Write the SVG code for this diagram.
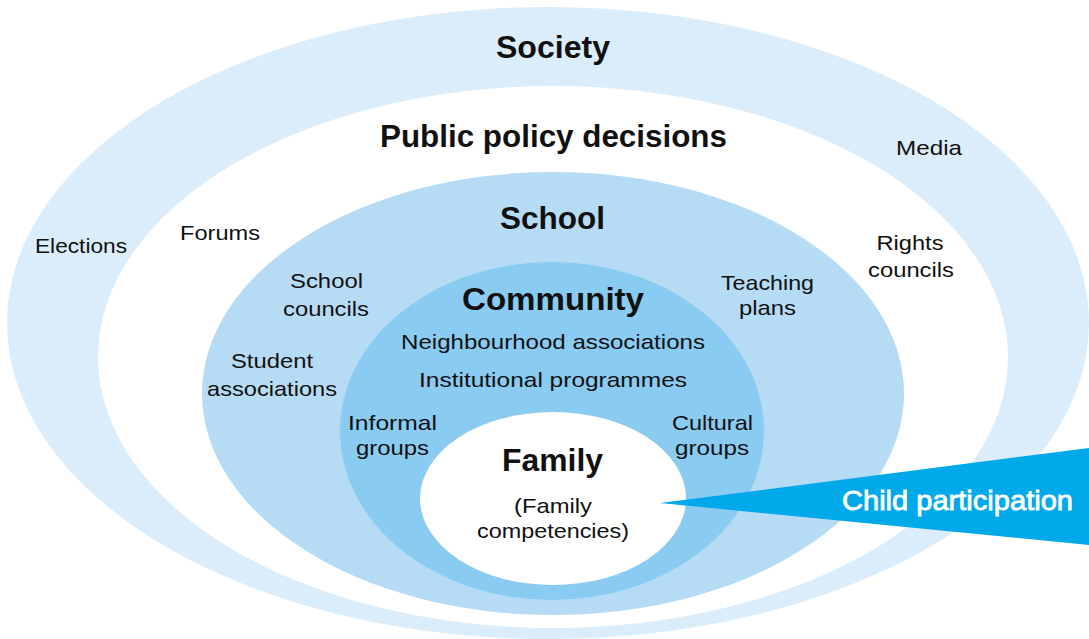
<svg xmlns="http://www.w3.org/2000/svg" width="1089" height="639" viewBox="0 0 1089 639">
<style>
text{font-family:"Liberation Sans",Arial,sans-serif;fill:#111;text-anchor:middle}
.t{font-weight:bold;font-size:31px}
.s{font-size:21px}
.w{fill:#fff;font-size:28px;stroke:#fff;stroke-width:0.8px}
</style>
<rect width="1089" height="639" fill="#fff"/>
<g id="society"><ellipse cx="548" cy="323" rx="541" ry="316" fill="#dbedfa"/>
<text class="t" x="553" y="58" textLength="114" lengthAdjust="spacingAndGlyphs">Society</text>
<text class="s" x="81" y="253" textLength="92" lengthAdjust="spacingAndGlyphs">Elections</text>
<text class="s" x="929" y="155" textLength="66" lengthAdjust="spacingAndGlyphs">Media</text></g>
<g id="policy"><ellipse cx="553" cy="357" rx="455" ry="271" fill="#fff"/>
<text class="t" x="553.5" y="147" textLength="347" lengthAdjust="spacingAndGlyphs">Public policy decisions</text>
<text class="s" x="220" y="240" textLength="80" lengthAdjust="spacingAndGlyphs">Forums</text>
<text class="s" x="910" y="250" textLength="67" lengthAdjust="spacingAndGlyphs">Rights</text>
<text class="s" x="911" y="277" textLength="86" lengthAdjust="spacingAndGlyphs">councils</text></g>
<g id="school"><ellipse cx="553" cy="393.5" rx="351" ry="221.5" fill="#b5dcf4"/>
<text class="t" x="552.5" y="229" textLength="105" lengthAdjust="spacingAndGlyphs">School</text>
<text class="s" x="326.5" y="288" textLength="73" lengthAdjust="spacingAndGlyphs">School</text>
<text class="s" x="326" y="316" textLength="86" lengthAdjust="spacingAndGlyphs">councils</text>
<text class="s" x="272" y="368" textLength="82" lengthAdjust="spacingAndGlyphs">Student</text>
<text class="s" x="272" y="396" textLength="130" lengthAdjust="spacingAndGlyphs">associations</text>
<text class="s" x="767.5" y="290" textLength="93" lengthAdjust="spacingAndGlyphs">Teaching</text>
<text class="s" x="767.5" y="315" textLength="57" lengthAdjust="spacingAndGlyphs">plans</text></g>
<g id="community"><ellipse cx="552" cy="431" rx="212" ry="169" fill="#89cbf1"/>
<text class="t" x="553" y="310" textLength="182" lengthAdjust="spacingAndGlyphs">Community</text>
<text class="s" x="553" y="349" textLength="304" lengthAdjust="spacingAndGlyphs">Neighbourhood associations</text>
<text class="s" x="553" y="387" textLength="268" lengthAdjust="spacingAndGlyphs">Institutional programmes</text>
<text class="s" x="392.5" y="430" textLength="89" lengthAdjust="spacingAndGlyphs">Informal</text>
<text class="s" x="392.5" y="455" textLength="73" lengthAdjust="spacingAndGlyphs">groups</text>
<text class="s" x="712.5" y="430" textLength="81" lengthAdjust="spacingAndGlyphs">Cultural</text>
<text class="s" x="712" y="455" textLength="74" lengthAdjust="spacingAndGlyphs">groups</text></g>
<g id="family"><ellipse cx="553" cy="498.5" rx="133" ry="86.5" fill="#fff"/>
<text class="t" x="552.5" y="471" textLength="101" lengthAdjust="spacingAndGlyphs">Family</text>
<text class="s" x="553" y="513" textLength="78" lengthAdjust="spacingAndGlyphs">(Family</text>
<text class="s" x="553" y="538" textLength="152" lengthAdjust="spacingAndGlyphs">competencies)</text></g>
<g id="connectors"><g id="child-participation"><polygon points="660,503 1089,448 1089,545" fill="#00a9e9"/>
<text class="w" x="957.5" y="510" textLength="231" lengthAdjust="spacingAndGlyphs">Child participation</text></g></g>
</svg>
